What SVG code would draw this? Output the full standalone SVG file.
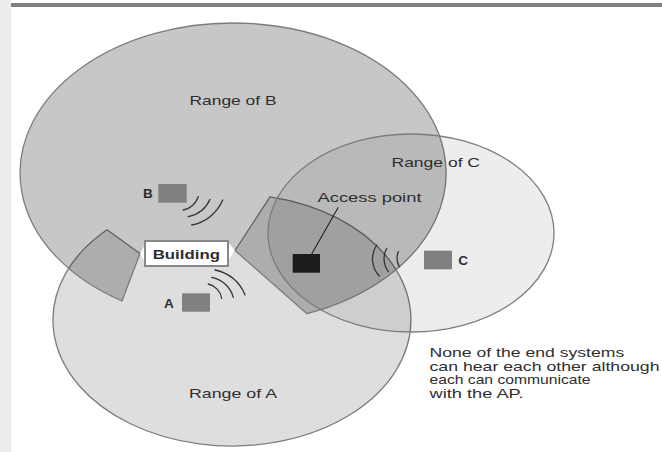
<svg xmlns="http://www.w3.org/2000/svg" width="662" height="452" viewBox="0 0 662 452">
<style>
.rng{stroke:#7c7c7c;stroke-width:1.3;stroke-linejoin:round}
.t{font-family:"Liberation Sans",Arial,sans-serif;font-size:13.5px;fill:#2e2e2e}
.b{font-weight:bold}
.n{font-size:13.5px}
.wave{fill:none;stroke:#333;stroke-width:1.3;stroke-linecap:round}
.sta{fill:#808080}
</style>
<rect x="0" y="0" width="662" height="452" fill="#ffffff"/>
<rect x="0" y="0" width="11" height="452" fill="#ececec"/>
<rect x="11" y="3" width="651" height="4" fill="#808080"/>

<g id="rangeA">
<path class="rng" d="M140,253.5 L107,229.8 A179 126 0 1 0 270,196.9 L235,250.5 Z" fill="#000" fill-opacity="0.13"/>
<text class="t" x="189" y="398" textLength="88" lengthAdjust="spacingAndGlyphs">Range of A</text>
</g>
<g id="rangeB">
<path class="rng" d="M140,253.5 L122,301 A213 150 0 1 1 307,313.7 L235,250.5 Z" fill="#000" fill-opacity="0.22"/>
<text class="t" x="189.5" y="105" textLength="87" lengthAdjust="spacingAndGlyphs">Range of B</text>
</g>
<g id="rangeC">
<ellipse class="rng" cx="411" cy="233" rx="143" ry="99" fill="#000" fill-opacity="0.07"/>
<text class="t" x="391.5" y="166.5" textLength="88.5" lengthAdjust="spacingAndGlyphs">Range of C</text>
</g>

<g id="building">
<polygon points="140,253.5 146,243 146,264" fill="#fff"/>
<polygon points="235,250.5 228,242 228,260" fill="#fff"/>
<rect x="145" y="241" width="83" height="25" fill="#fff" stroke="#888" stroke-width="2"/>
<text class="t b" x="152.7" y="258.5" textLength="67.3" lengthAdjust="spacingAndGlyphs">Building</text>
</g>

<g id="stationB">
<rect class="sta" x="158.3" y="184" width="28.4" height="18.7"/>
<text class="t b" x="143" y="198">B</text>
<path class="wave" d="M183.3,210 A21 21 0 0 0 198.3,196.7"/>
<path class="wave" d="M188.3,216.7 A30 30 0 0 0 210,199.3"/>
<path class="wave" d="M191.7,225 A42 42 0 0 0 222.7,200"/>
</g>

<g id="stationA">
<rect class="sta" x="182" y="293.3" width="28" height="18.4"/>
<text class="t b" x="164" y="307.5">A</text>
<path class="wave" d="M208.3,284 A18 18 0 0 1 221.7,298.3"/>
<path class="wave" d="M211.7,277.3 A28 28 0 0 1 233.3,297.3"/>
<path class="wave" d="M215,270 A40 40 0 0 1 245,295"/>
</g>

<g id="stationC">
<rect class="sta" x="424" y="250.7" width="28" height="18.6"/>
<text class="t b" x="458.3" y="265">C</text>
</g>

<g id="accessPoint">
<rect x="292.7" y="254" width="27.3" height="18.7" fill="#1c1c1c"/>
<text class="t" x="317.5" y="201.5" textLength="104" lengthAdjust="spacingAndGlyphs">Access point</text>
<path class="wave" d="M376.7,245 A25 25 0 0 0 379.3,276"/>
<path class="wave" d="M386.7,248.3 A22 22 0 0 0 388.3,271.7"/>
<path class="wave" d="M398.3,251.7 A18 18 0 0 0 399.3,266.7"/>
</g>

<g id="connectors">
<line x1="311.7" y1="254" x2="338.3" y2="207.3" stroke="#222" stroke-width="1.1"/>
</g>

<g id="note">
<text class="t n" x="429.5" y="357" textLength="194.7" lengthAdjust="spacingAndGlyphs">None of the end systems</text>
<text class="t n" x="429.5" y="370.5" textLength="230" lengthAdjust="spacingAndGlyphs">can hear each other although</text>
<text class="t n" x="429.5" y="384" textLength="161" lengthAdjust="spacingAndGlyphs">each can communicate</text>
<text class="t n" x="429.5" y="397.5" textLength="94" lengthAdjust="spacingAndGlyphs">with the AP.</text>
</g>
</svg>
